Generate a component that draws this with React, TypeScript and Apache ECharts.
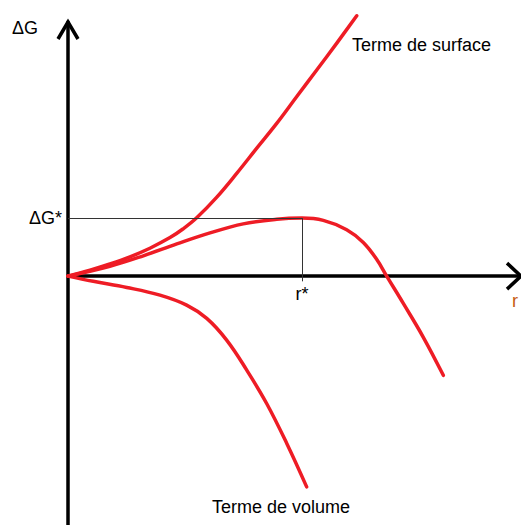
import React, { useEffect, useRef } from "react";
import * as echarts from "echarts";

// r in units of r*, ΔG in units of ΔG*
const surfaceTerm: number[][] = [
  [0, 0], [0.094, 0.102], [0.179, 0.209], [0.265, 0.333], [0.35, 0.481],
  [0.436, 0.664], [0.491, 0.812], [0.55, 1.005], [0.635, 1.357], [0.721, 1.77],
  [0.806, 2.201], [0.892, 2.632], [0.977, 3.091], [1.063, 3.552],
  [1.148, 4.012], [1.234, 4.488],
];
const totalCurve: number[][] = [
  [0, 0], [0.179, 0.17], [0.322, 0.35], [0.465, 0.555], [0.607, 0.745],
  [0.749, 0.9], [0.892, 0.98], [1.0, 1.0], [1.091, 0.96], [1.191, 0.8],
  [1.262, 0.58], [1.319, 0.29], [1.362, 0.0], [1.433, -0.47],
  [1.518, -1.05], [1.604, -1.71],
];
const volumeTerm: number[][] = [
  [0, 0], [0.108, -0.09], [0.251, -0.195], [0.393, -0.328], [0.507, -0.5],
  [0.593, -0.729], [0.678, -1.103], [0.764, -1.621], [0.849, -2.195],
  [0.935, -2.884], [1.02, -3.633],
];
const criticalPoint: number[] = [1, 1]; // [r*, ΔG*]
const axisNames = { y: "ΔG", x: "r" };
const criticalLabels = { y: "ΔG*", x: "r*" };
const termLabels = { surface: "Terme de surface", volume: "Terme de volume" };

const X_MIN = 0;
const X_MAX = 1.936;
const Y_MIN = -4.6;
const Y_MAX = 4.38;

const RED = "#EE1C25";
const FONT = "'Liberation Sans', Arial, sans-serif";

export default function App() {
  const ref = useRef<HTMLDivElement>(null);
  useEffect(() => {
    document.body.style.margin = "0";
    const el = ref.current!;
    const chart = echarts.init(el, null, { renderer: "svg" });
    const lineSeries = (name: string, data: number[][], extra: any = {}) => ({
      name,
      type: "line",
      data,
      smooth: 0.4,
      showSymbol: false,
      clip: false,
      silent: true,
      lineStyle: { color: RED, width: 3.5, cap: "round", join: "round" },
      ...extra,
    });
    const guideLabel = (text: string, position: string, distance: number, fontSize: number) => ({
      show: true,
      position,
      distance,
      formatter: text,
      color: "#000",
      fontSize,
      fontFamily: FONT,
    });
    const hLabel = guideLabel(criticalLabels.y, "start", 6, 18);
    const vLabel = guideLabel(criticalLabels.x, "end", 4, 18);
    chart.setOption({
      animation: false,
      grid: { left: 68, top: 22, width: 453, height: 521, outerBoundsMode: "none" },
      xAxis: {
        type: "value",
        min: X_MIN,
        max: X_MAX,
        axisLine: { show: true, onZero: true, lineStyle: { color: "#000", width: 3.5 } },
        axisTick: { show: false },
        axisLabel: { show: false },
        splitLine: { show: false },
      },
      yAxis: {
        type: "value",
        min: Y_MIN,
        max: Y_MAX,
        axisLine: { show: true, onZero: true, lineStyle: { color: "#000", width: 3.5 } },
        axisTick: { show: false },
        axisLabel: { show: false },
        splitLine: { show: false },
      },
      series: [
        lineSeries("surface", surfaceTerm),
        lineSeries("volume", volumeTerm),
        lineSeries("total", totalCurve, {
          markLine: {
            silent: true,
            symbol: "none",
            animation: false,
            lineStyle: { color: "#333", width: 1, type: "solid" },
            emphasis: { disabled: true },
            data: [
              [
                { coord: [X_MIN, criticalPoint[1]], label: hLabel },
                { coord: [criticalPoint[0], criticalPoint[1]], label: hLabel },
              ],
              [
                { coord: [criticalPoint[0], criticalPoint[1]], label: vLabel },
                { coord: [criticalPoint[0], -0.09], label: vLabel },
              ],
            ],
          },
        }),
      ],
    });
    const xEnd = chart.convertToPixel({ gridIndex: 0 }, [X_MAX, 0]) as number[];
    const yEnd = chart.convertToPixel({ gridIndex: 0 }, [0, Y_MAX]) as number[];
    const arrowStyle = { stroke: "#000", lineWidth: 3.5, fill: null, lineJoin: "miter" };
    const textStyle = (text: string, x: number, y: number, fontSize: number, color = "#000") => ({
      type: "text",
      x,
      y,
      silent: true,
      style: { text, fill: color, fontSize, fontFamily: FONT, align: "left", verticalAlign: "middle" },
    });
    chart.setOption({
      graphic: [
        {
          type: "polyline",
          silent: true,
          shape: { points: [[yEnd[0] - 10, yEnd[1] + 17], [yEnd[0], yEnd[1]], [yEnd[0] + 10, yEnd[1] + 17]] },
          style: arrowStyle,
          z: 10,
        },
        {
          type: "polyline",
          silent: true,
          shape: { points: [[xEnd[0] - 14, xEnd[1] - 13], [xEnd[0], xEnd[1]], [xEnd[0] - 14, xEnd[1] + 13]] },
          style: arrowStyle,
          z: 10,
        },
        textStyle(axisNames.y, 12, 28, 18),
        textStyle(axisNames.x, 512, 301, 18, "#C55A11"),
        textStyle(termLabels.surface, 352, 45, 18),
        textStyle(termLabels.volume, 212, 507, 18),
      ],
    });
    return () => chart.dispose();
  }, []);
  return <div ref={ref} style={{ width: 521, height: 525 }} />;
}
